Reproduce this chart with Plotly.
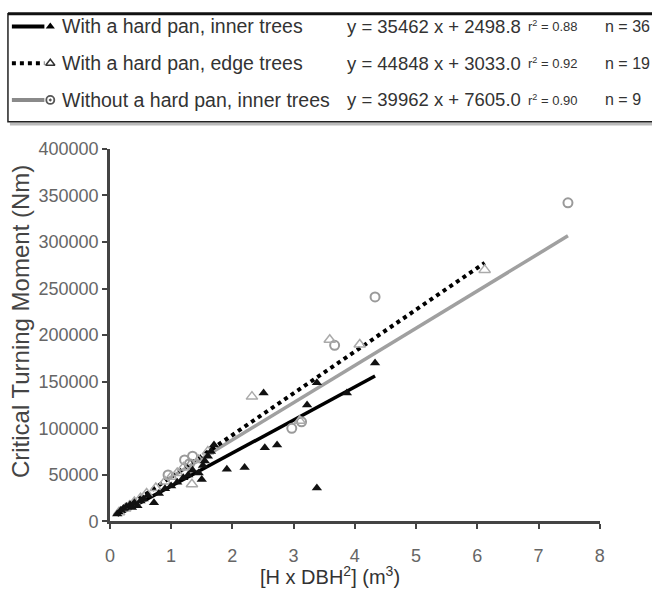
import plotly.graph_objects as go

# ---------------- data ----------------
x_inner = [0.12, 0.18, 0.22, 0.27, 0.33, 0.36, 0.40, 0.45, 0.50, 0.55, 0.62, 0.72,
           0.80, 0.90, 1.00, 1.10, 1.20, 1.28, 1.35, 1.45, 1.50, 1.52, 1.55, 1.60,
           1.65, 1.70, 1.91, 2.20, 2.51, 2.53, 2.73, 3.22, 3.38, 3.38, 3.87, 4.33]
y_inner = [8000, 12000, 14000, 16000, 18000, 15000, 20000, 17000, 22000, 24000, 28000, 20000,
           30000, 35000, 38000, 42000, 47000, 50000, 55000, 52000, 45000, 60000, 65000, 70000,
           75000, 82000, 56000, 58000, 138000, 79000, 82000, 125000, 149000, 36000, 138000, 170000]

x_edge = [0.15, 0.25, 0.32, 0.40, 0.50, 0.60, 0.75, 0.90, 1.00, 1.10, 1.20, 1.34,
          1.45, 1.60, 2.32, 3.10, 3.59, 4.08, 6.12]
y_edge = [10000, 14000, 17000, 21000, 25000, 30000, 36000, 43000, 48000, 52000, 58000, 40000,
          66000, 75000, 134000, 108000, 195000, 190000, 270000]

x_nopan = [0.95, 1.22, 1.30, 1.35, 2.97, 3.13, 3.67, 4.33, 7.48]
y_nopan = [50000, 66000, 62000, 70000, 100000, 107000, 189000, 241000, 342000]

series_names = ["With a hard pan, inner trees", "With a hard pan, edge trees",
                "Without a hard pan, inner trees"]
slopes = [35462, 44848, 39962]
intercepts = [2498.8, 3033.0, 7605.0]
equations = ["y = 35462 x + 2498.8", "y = 44848 x + 3033.0", "y = 39962 x + 7605.0"]
r2_labels = ["r<sup>2</sup> = 0.88", "r<sup>2</sup> = 0.92", "r<sup>2</sup> = 0.90"]
n_labels = ["n = 36", "n = 19", "n = 9"]

x_ticks = [0, 1, 2, 3, 4, 5, 6, 7, 8]
y_ticks = [0, 50000, 100000, 150000, 200000, 250000, 300000, 350000, 400000]

# ---------------- figure ----------------
W, H = 657, 604
fig = go.Figure()

def fit_line(xs, k, b):
    x0, x1 = min(xs), max(xs)
    return [x0, x1], [k * x0 + b, k * x1 + b]

lx, ly = fit_line(x_nopan, slopes[2], intercepts[2])
fig.add_trace(go.Scatter(x=lx, y=ly, mode="lines", line=dict(color="#a0a0a0", width=3.5),
                         hoverinfo="skip"))
lx, ly = fit_line(x_edge, slopes[1], intercepts[1])
fig.add_trace(go.Scatter(x=lx, y=ly, mode="lines",
                         line=dict(color="#000000", width=4, dash="4px,4px"), hoverinfo="skip"))
lx, ly = fit_line(x_inner, slopes[0], intercepts[0])
fig.add_trace(go.Scatter(x=lx, y=ly, mode="lines", line=dict(color="#000000", width=3.5),
                         hoverinfo="skip"))

fig.add_trace(go.Scatter(x=x_nopan, y=y_nopan, mode="markers", name=series_names[2],
                         marker=dict(symbol="circle-open", size=9, color="#9a9a9a",
                                     line=dict(width=2, color="#9a9a9a"))))
fig.add_trace(go.Scatter(x=x_edge, y=y_edge, mode="markers", name=series_names[1],
                         marker=dict(symbol="triangle-up-open", size=10, color="#aaaaaa",
                                     line=dict(width=1.5, color="#aaaaaa"))))
fig.add_trace(go.Scatter(x=x_inner, y=y_inner, mode="markers", name=series_names[0],
                         marker=dict(symbol="triangle-up", size=9, color="#111111")))

# ---------------- legend box (pixel overlay axes) ----------------
row_y = [17, 55, 93]
fig.add_trace(go.Scatter(x=[7, 40], y=[row_y[0]] * 2, xaxis="x2", yaxis="y2", mode="lines",
                         line=dict(color="#000", width=4), hoverinfo="skip"))
fig.add_trace(go.Scatter(x=[7, 40], y=[row_y[1]] * 2, xaxis="x2", yaxis="y2", mode="lines",
                         line=dict(color="#000", width=4, dash="4px,4px"), hoverinfo="skip"))
fig.add_trace(go.Scatter(x=[7, 40], y=[row_y[2]] * 2, xaxis="x2", yaxis="y2", mode="lines",
                         line=dict(color="#8a8a8a", width=4), hoverinfo="skip"))
fig.add_trace(go.Scatter(x=[46], y=[row_y[0]], xaxis="x2", yaxis="y2", mode="markers",
                         marker=dict(symbol="triangle-up", size=8, color="#000"), hoverinfo="skip"))
fig.add_trace(go.Scatter(x=[46], y=[row_y[1]], xaxis="x2", yaxis="y2", mode="markers",
                         marker=dict(symbol="triangle-up-open", size=8, color="#333",
                                     line=dict(width=1.5)), hoverinfo="skip"))
fig.add_trace(go.Scatter(x=[46], y=[row_y[2]], xaxis="x2", yaxis="y2", mode="markers",
                         marker=dict(symbol="circle-open-dot", size=8, color="#555",
                                     line=dict(width=1.8)), hoverinfo="skip"))

shapes = [
    dict(type="line", xref="x2", yref="y2", x0=5, x1=670, y0=118, y1=118,
         line=dict(color="#bbbbbb", width=3)),
    dict(type="rect", xref="x2", yref="y2", x0=3, x1=680, y0=4, y1=115.5,
         line=dict(color="#222222", width=1.5)),
    dict(type="line", xref="x2", yref="y2", x0=3, x1=670, y0=4, y1=4,
         line=dict(color="#111111", width=3)),
]

annotations = []
font_txt = "Liberation Sans, Arial, sans-serif"
for i in range(3):
    annotations.append(dict(xref="x2", yref="y2", x=56, y=row_y[i], text=series_names[i],
                            showarrow=False, xanchor="left", yanchor="middle",
                            font=dict(family=font_txt, size=19.5, color="#333")))
    annotations.append(dict(xref="x2", yref="y2", x=345, y=row_y[i], text=equations[i],
                            showarrow=False, xanchor="left", yanchor="middle",
                            font=dict(family=font_txt, size=18.5, color="#333")))
    annotations.append(dict(xref="x2", yref="y2", x=529, y=row_y[i], text=r2_labels[i],
                            showarrow=False, xanchor="left", yanchor="middle",
                            font=dict(family=font_txt, size=13, color="#333")))
    annotations.append(dict(xref="x2", yref="y2", x=607, y=row_y[i], text=n_labels[i],
                            showarrow=False, xanchor="left", yanchor="middle",
                            font=dict(family=font_txt, size=16, color="#333")))

annotations.append(dict(xref="x2", yref="y2", x=16, y=322, text="Critical Turning Moment (Nm)",
                        textangle=-90, showarrow=False, xanchor="center", yanchor="middle",
                        font=dict(family=font_txt, size=24, color="#444")))
annotations.append(dict(xref="x2", yref="y2", x=330, y=585,
                        text="[H x DBH<sup>2</sup>] (m<sup>3</sup>)",
                        showarrow=False, xanchor="center", yanchor="middle",
                        font=dict(family=font_txt, size=20, color="#333")))

X0, X8 = 106.5, 604
Y0, Y4 = 529, 143.5

fig.update_layout(
    width=W, height=H,
    margin=dict(l=0, r=0, t=0, b=0),
    paper_bgcolor="white", plot_bgcolor="rgba(0,0,0,0)",
    showlegend=False,
    font=dict(family=font_txt, size=17, color="#555"),
    xaxis=dict(domain=[X0 / W, X8 / W], range=[0, 8], tickvals=x_ticks,
               ticks="outside", ticklen=5, tickwidth=2, tickcolor="#444",
               showline=True, linecolor="#444", linewidth=2.5, showgrid=False,
               zeroline=False, anchor="y", ticklabelstandoff=11,
               tickfont=dict(size=18, color="#666")),
    yaxis=dict(domain=[(H - Y0) / H, (H - Y4) / H], range=[0, 400000], tickvals=y_ticks,
               tickformat="d", ticks="outside", ticklen=5, tickwidth=2, tickcolor="#444",
               showline=True, linecolor="#444", linewidth=2.5, showgrid=False,
               zeroline=False, anchor="x", tickfont=dict(size=18, color="#666")),
    xaxis2=dict(domain=[0, 1], range=[0, W], visible=False, anchor="y2", fixedrange=True),
    yaxis2=dict(domain=[0, 1], range=[H, 0], visible=False, anchor="x2", fixedrange=True),
    shapes=shapes,
    annotations=annotations,
)

fig.write_html("out.html")
